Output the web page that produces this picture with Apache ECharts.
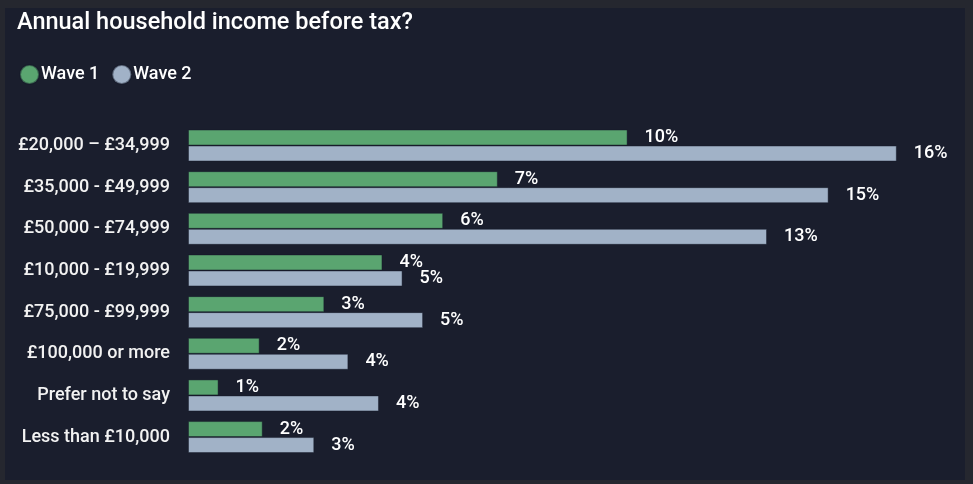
<!DOCTYPE html>
<html>
<head>
<meta charset="utf-8">
<script src="https://cdn.jsdelivr.net/npm/echarts@6/dist/echarts.min.js"></script>
<style>
html,body{margin:0;padding:0;background:#25272f;}
#chart{width:973px;height:484px;}
</style>
</head>
<body>
<div id="chart"></div>
<script>
const titleText = 'Annual household income before tax?';
const categories = ['£20,000 – £34,999','£35,000 - £49,999','£50,000 - £74,999','£10,000 - £19,999','£75,000 - £99,999','£100,000 or more','Prefer not to say','Less than £10,000'];
const seriesNames = ['Wave 1','Wave 2'];
const wave1 = [10.06, 7.09, 5.84, 4.45, 3.12, 1.64, 0.70, 1.71];
const wave2 = [16.22, 14.66, 13.25, 4.91, 5.38, 3.67, 4.37, 2.89];
const colors = ['#5aa570','#a1b2c7'];
const FONT = 'Roboto';

const chart = echarts.init(document.getElementById('chart'));
const mkSeries = (name, data, color) => ({
  name, type:'bar', data, barWidth:16, barGap:'0%',
  itemStyle:{color, borderColor:'rgba(20,25,40,0.45)', borderWidth:1},
  label:{show:true, position:'right', distance:17, color:'#ffffff', fontFamily:FONT, fontSize:18, fontWeight:500,
    formatter:p => Math.round(p.value)+'%'}
});
chart.setOption({
  backgroundColor:'#25272f',
  animation:false,
  graphic:[{type:'rect', z:-10, shape:{x:5,y:8,width:960,height:472}, style:{fill:'#1a1e2d'}}],
  title:{text:titleText, left:12, top:6, textStyle:{color:'#ffffff', fontFamily:FONT, fontSize:23.5, fontWeight:500}},
  legend:{left:14, top:59, itemWidth:19, itemHeight:19, itemGap:12, icon:'circle',
    textStyle:{color:'#ffffff', fontFamily:FONT, fontSize:18, fontWeight:500, padding:[0,0,0,-3]},
    data:seriesNames},
  grid:{left:188, top:124.7, height:333.2, width:742.9, containLabel:false},
  xAxis:{type:'value', min:0, max:17, show:false},
  yAxis:{type:'category', data:categories, inverse:true,
    axisLine:{show:false}, axisTick:{show:false}, splitLine:{show:false},
    axisLabel:{color:'#f2f2f2', fontFamily:FONT, fontSize:18, fontWeight:500, margin:18}},
  series:[mkSeries(seriesNames[0], wave1, colors[0]), mkSeries(seriesNames[1], wave2, colors[1])]
});
</script>
</body>
</html>
